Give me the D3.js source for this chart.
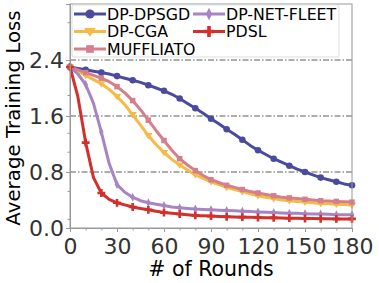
<!DOCTYPE html>
<html>
<head>
<meta charset="utf-8">
<script src="https://cdn.jsdelivr.net/npm/d3@7"></script>
<style>
  body { margin: 0; background: #fff; }
  svg text { font-family: "DejaVu Sans", sans-serif; }
</style>
</head>
<body>
<div id="chart"></div>
<script>
// rounds sampled every 5; markers drawn every 10
var rounds = d3.range(0, 181, 5);

var dpDpsgd = [2.30, 2.28, 2.26, 2.24, 2.22, 2.20, 2.17, 2.14, 2.11, 2.08, 2.04, 2.00, 1.96, 1.91, 1.85, 1.78, 1.71, 1.64, 1.56,
    1.49, 1.41, 1.34, 1.26, 1.18, 1.11, 1.05, 0.99, 0.94, 0.89, 0.84, 0.80, 0.76, 0.72, 0.69, 0.66, 0.63, 0.61];
var dpCga = [2.30, 2.24, 2.18, 2.12, 2.06, 1.98, 1.88, 1.76, 1.62, 1.47, 1.32, 1.19, 1.08, 0.98, 0.90, 0.83, 0.76, 0.71, 0.66,
    0.62, 0.58, 0.55, 0.52, 0.49, 0.46, 0.44, 0.42, 0.40, 0.39, 0.38, 0.37, 0.36, 0.35, 0.345, 0.34, 0.335, 0.33];
var muffliato = [2.30, 2.26, 2.22, 2.18, 2.14, 2.09, 2.02, 1.93, 1.82, 1.69, 1.54, 1.39, 1.25, 1.11, 0.99, 0.90, 0.82, 0.75, 0.69,
    0.65, 0.61, 0.58, 0.55, 0.52, 0.50, 0.48, 0.46, 0.44, 0.43, 0.42, 0.41, 0.40, 0.39, 0.385, 0.38, 0.375, 0.37];
var dpNetFleet = [2.30, 2.20, 2.05, 1.78, 1.37, 0.92, 0.62, 0.51, 0.44, 0.39, 0.36, 0.34, 0.32, 0.30, 0.29, 0.28, 0.27, 0.265, 0.26,
    0.255, 0.25, 0.245, 0.24, 0.235, 0.23, 0.225, 0.22, 0.215, 0.21, 0.21, 0.205, 0.20, 0.20, 0.195, 0.19, 0.19, 0.19];
var pdsl = [2.30, 1.88, 1.22, 0.72, 0.50, 0.41, 0.36, 0.33, 0.30, 0.28, 0.26, 0.24, 0.22, 0.21, 0.20, 0.19, 0.18, 0.175, 0.17,
    0.165, 0.16, 0.157, 0.155, 0.152, 0.15, 0.147, 0.145, 0.142, 0.14, 0.138, 0.136, 0.134, 0.132, 0.131, 0.13, 0.13, 0.13];

var xTicks = [0, 30, 60, 90, 120, 150, 180];
var xMinorTicks = d3.range(0, 181, 10);
var yTicks = [0.0, 0.8, 1.6, 2.4];
var yMinorTicks = [0.13, 0.53, 1.09, 1.36, 1.9, 2.94];

var series = [
    { name: "DP-DPSGD", values: dpDpsgd, color: "#4b4b9e", symbol: d3.symbolCircle, size: 34 },
    { name: "DP-CGA", values: dpCga, color: "#f5bb45", symbol: "tri", size: 34 },
    { name: "MUFFLIATO", values: muffliato, color: "#d47f8b", symbol: d3.symbolSquare, size: 30 },
    { name: "DP-NET-FLEET", values: dpNetFleet, color: "#a784c2", symbol: "thin", size: 30 },
    { name: "PDSL", values: pdsl, color: "#d3302c", symbol: d3.symbolCross, size: 34 }
];

function init() {
    var w = 379;
    var h = 283;
    var margin = { top: 4, right: 27, bottom: 55, left: 70 };
    var iw = w - margin.left - margin.right;
    var ih = h - margin.top - margin.bottom;

    var svg = d3.select("#chart")
        .append("svg")
        .attr("width", w)
        .attr("height", h);

    var g = svg.append("g")
        .attr("transform", "translate(" + margin.left + "," + margin.top + ")");

    var x = d3.scaleLinear().domain([0, 180]).range([0, iw]);
    var y = d3.scaleLinear().domain([0, 3.2]).range([ih, 0]);

    // dash-dot grid on major y ticks
    g.selectAll(".grid")
        .data(yTicks.filter(d => d > 0))
        .enter()
        .append("line")
        .attr("x1", 0)
        .attr("x2", iw)
        .attr("y1", d => y(d))
        .attr("y2", d => y(d))
        .attr("stroke", "#333")
        .attr("stroke-width", 0.8)
        .attr("stroke-dasharray", "6,2,1.5,2");

    function markerPath(s) {
        if (s.symbol === "tri") {
            var r = 4.2;
            return "M" + (-r) + "," + (-r * 0.6) + "L" + r + "," + (-r * 0.6) + "L0," + (r * 0.9) + "Z";
        }
        if (s.symbol === "thin") {
            return "M0,-4.5L2.2,0L0,4.5L-2.2,0Z";
        }
        return d3.symbol().type(s.symbol).size(s.size)();
    }

    var line = d3.line()
        .x((d, i) => x(rounds[i]))
        .y(d => y(d));

    series.forEach(function (s) {
        g.append("path")
            .datum(s.values)
            .attr("d", line)
            .attr("fill", "none")
            .attr("stroke", s.color)
            .attr("stroke-width", 3)
            .attr("stroke-linejoin", "round");

        g.selectAll(null)
            .data(s.values.filter((d, i) => rounds[i] % 10 === 0).map((d, i) => [i * 10, d]))
            .enter()
            .append("path")
            .attr("d", markerPath(s))
            .attr("transform", d => "translate(" + x(d[0]) + "," + y(d[1]) + ")")
            .attr("fill", s.color);
    });

    // frame
    g.append("rect")
        .attr("width", iw)
        .attr("height", ih)
        .attr("fill", "none")
        .attr("stroke", "#999")
        .attr("stroke-width", 1);

    // x axis
    var xAxis = g.append("g")
        .attr("transform", "translate(0," + ih + ")")
        .call(d3.axisBottom(x).tickValues(xTicks).tickSize(4).tickFormat(d3.format("d")));
    g.append("g")
        .attr("transform", "translate(0," + ih + ")")
        .call(d3.axisBottom(x).tickValues(xMinorTicks).tickSize(2.5).tickFormat(""))
        .call(a => a.select(".domain").remove())
        .selectAll("line").attr("stroke", "#999");
    xAxis.select(".domain").attr("stroke", "#999");
    xAxis.selectAll("line").attr("stroke", "#999");
    xAxis.selectAll("text")
        .attr("font-size", 22)
        .attr("fill", "#333")
        .attr("dy", "0.85em");

    // y axis
    var yAxis = g.append("g")
        .call(d3.axisLeft(y).tickValues(yTicks).tickSize(4).tickFormat(d3.format(".1f")));
    g.append("g")
        .call(d3.axisLeft(y).tickValues(yMinorTicks).tickSize(2.5).tickFormat(""))
        .call(a => a.select(".domain").remove())
        .selectAll("line").attr("stroke", "#999");
    yAxis.select(".domain").attr("stroke", "#999");
    yAxis.selectAll("line").attr("stroke", "#999");
    yAxis.selectAll("text")
        .attr("font-size", 22)
        .attr("fill", "#333")
        .attr("x", -6);

    // axis titles
    svg.append("text")
        .attr("x", margin.left + iw / 2)
        .attr("y", 276)
        .attr("text-anchor", "middle")
        .attr("font-size", 20.5)
        .text("# of Rounds");

    svg.append("text")
        .attr("transform", "translate(19.5," + (margin.top + ih / 2 + 2) + ") rotate(-90)")
        .attr("text-anchor", "middle")
        .attr("font-size", 19.8)
        .text("Average Training Loss");

    // legend
    var legend = svg.append("g");
    legend.append("rect")
        .attr("x", 72)
        .attr("y", 5)
        .attr("width", 267)
        .attr("height", 52)
        .attr("rx", 2)
        .attr("fill", "#fff")
        .attr("fill-opacity", 0.85)
        .attr("stroke", "#ddd");

    var cols = [[0, 1, 2], [3, 4]];
    var colX = [74, 193];
    cols.forEach(function (col, ci) {
        col.forEach(function (si, ri) {
            var s = series[si];
            var ly = 14 + ri * 17.5;
            var lx = colX[ci];
            legend.append("line")
                .attr("x1", lx)
                .attr("x2", lx + 32)
                .attr("y1", ly)
                .attr("y2", ly)
                .attr("stroke", s.color)
                .attr("stroke-width", 3);
            legend.append("path")
                .attr("d", markerPath(s))
                .attr("transform", "translate(" + (lx + 16) + "," + ly + ") scale(1.4)")
                .attr("fill", s.color);
            legend.append("text")
                .attr("x", lx + 33)
                .attr("y", ly)
                .attr("dy", "0.36em")
                .attr("font-size", 15.8)
                .text(s.name);
        });
    });
}

window.onload = init;
</script>
</body>
</html>
